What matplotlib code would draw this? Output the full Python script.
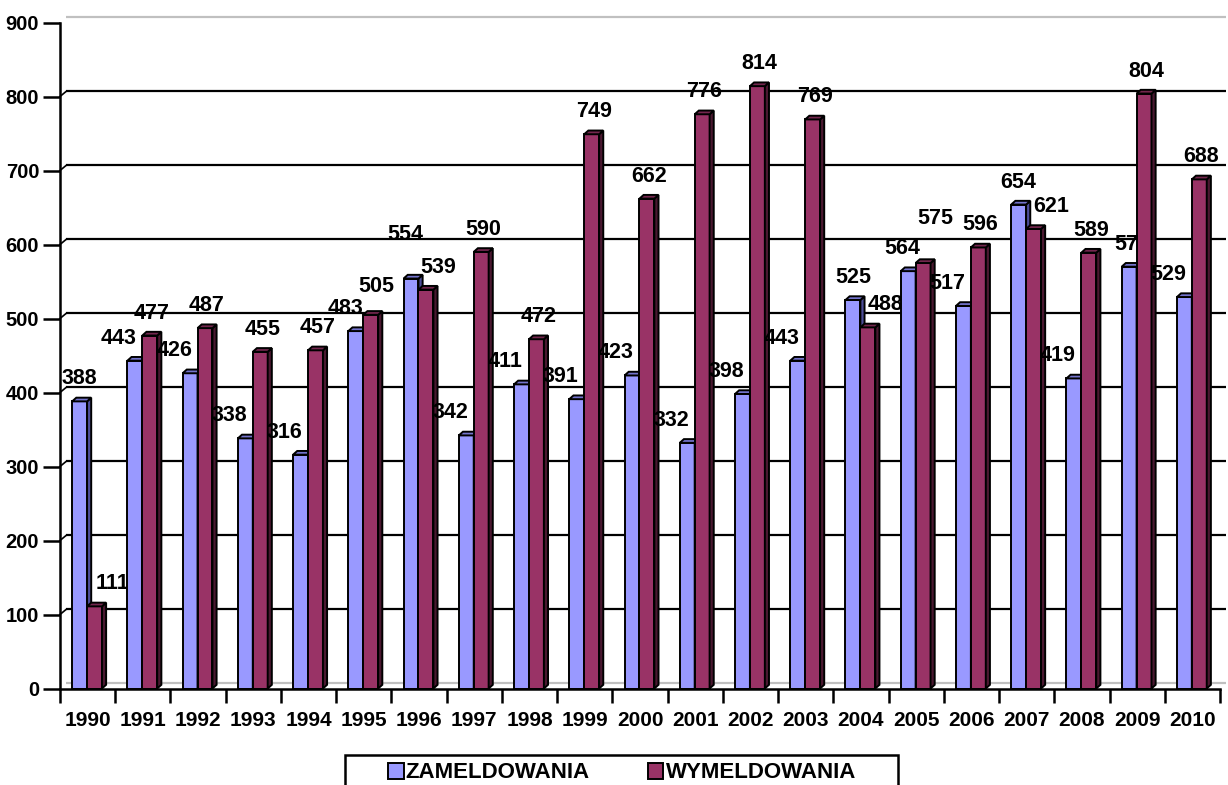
import numpy as np
import matplotlib.pyplot as plt
from matplotlib.patches import Polygon, Patch, Rectangle

plt.rcParams['font.family'] = ['Liberation Sans', 'DejaVu Sans']
plt.rcParams['font.weight'] = 'bold'

# Dane
lata = [str(r) for r in range(1990, 2011)]
zameldowania = [388, 443, 426, 338, 316, 483, 554, 342, 411, 391, 423,
                332, 398, 443, 525, 564, 517, 654, 419, 570, 529]
wymeldowania = [111, 477, 487, 455, 457, 505, 539, 590, 472, 749, 662,
                776, 814, 769, 488, 575, 596, 621, 589, 804, 688]
serie = ['ZAMELDOWANIA', 'WYMELDOWANIA']

# kolory: przod, bok, gora
kol_zam = ('#9999ff', '#4d4d99', '#7373cc')
kol_wym = ('#993366', '#4a1830', '#73264d')

W, H = 1228, 785
fig = plt.figure(figsize=(W / 100, H / 100), dpi=100)
ax = fig.add_axes([60 / W, (H - 688.5) / H, 1160 / W, 666 / H])
ax.set_xlim(0, len(lata))
ax.set_ylim(0, 900)

sz = 0.27      # szerokosc slupka
dx, dy = 0.075, 5   # glebokosc 3D
gx, gy = 0.11, 6.8  # przesuniecie tylnej sciany

# siatka na tylnej scianie
for v in range(0, 1000, 100):
    kol = '#c0c0c0' if v in (0, 900) else 'k'
    ax.plot([gx, len(lata) + gx], [v + gy, v + gy], color=kol, lw=1.6,
            zorder=1, clip_on=False, solid_capstyle='butt')
    if 0 < v < 900:
        ax.plot([0, gx], [v, v + gy], color='k', lw=1.2, zorder=1, clip_on=False)


def slupek(x0, h, kolory, z):
    przod, bok, gora = kolory
    ax.bar(x0, h, sz, align='edge', color=przod, edgecolor='k', lw=1.4, zorder=z)
    ax.add_patch(Polygon([(x0 + sz, 0), (x0 + sz + dx, dy), (x0 + sz + dx, h + dy),
                          (x0 + sz, h)], closed=True, fc=bok, ec='k', lw=1.4,
                         zorder=z, clip_on=False))
    ax.add_patch(Polygon([(x0, h), (x0 + dx, h + dy), (x0 + sz + dx, h + dy),
                          (x0 + sz, h)], closed=True, fc=gora, ec='k', lw=1.4,
                         zorder=z, clip_on=False))


for k in range(len(lata)):
    z = zameldowania[k]
    w = wymeldowania[k]
    xz = k + 0.22
    xw = xz + sz
    zb = 10 + 4 * k
    # etykiety odsuwane od wyzszego sasiada (jak w Excelu)
    gz = gw = 12
    sx_z, sx_w = 0, 2
    if abs(z - w) <= 15:
        sx_z, sx_w = -6, 12
        if z > w:
            gz += 22
        else:
            gw += 22
    elif abs(z - w) <= 30:
        sx_z, sx_w = -10, 6
        if z > w:
            gz += 6
        else:
            gw += 6
    elif w > z:
        # nie przesuwaj w lewo gdy koliduje z etykieta z poprzedniego roku
        if k == 0 or abs(wymeldowania[k - 1] - z) > 30:
            sx_z = -16
        else:
            sx_z = 3
    else:
        sx_w = 18
    slupek(xz, z, kol_zam, zb)
    ax.annotate(str(z), (xz + sz / 2, z), xytext=(sx_z, gz),
                textcoords='offset pixels', ha='center', va='bottom',
                fontsize=15.5, fontweight='bold', zorder=zb + 1)
    slupek(xw, w, kol_wym, zb + 2)
    ax.annotate(str(w), (xw + sz / 2, w), xytext=(sx_w, gw),
                textcoords='offset pixels', ha='center', va='bottom',
                fontsize=15.5, fontweight='bold', zorder=zb + 3, annotation_clip=False)

# osie
for s in ['top', 'right']:
    ax.spines[s].set_visible(False)
for s in ['left', 'bottom']:
    ax.spines[s].set_linewidth(1.8)
    ax.spines[s].set_zorder(200)

ax.set_yticks(range(0, 1000, 100))
ax.tick_params(axis='y', direction='out', length=12, width=1.8, labelsize=14.5, pad=3)
ax.set_xticks(range(0, len(lata) + 1))
ax.set_xticklabels([])
ax.tick_params(axis='x', which='major', direction='out', length=10, width=1.8)
ax.set_xticks(np.arange(len(lata)) + 0.5, minor=True)
ax.set_xticklabels(lata, minor=True)
ax.tick_params(axis='x', which='minor', length=0, labelsize=15, pad=16)
for t in ax.get_xticklabels(minor=True) + ax.get_yticklabels():
    t.set_fontweight('bold')

# legenda - ramka rysowana osobno
fig.patches.append(Rectangle((345 / W, -0.05), 553 / W, (H - 755) / H + 0.05,
                             transform=fig.transFigure, fill=False, ec='k', lw=1.8))
uchwyty = [Patch(fc=kol_zam[0], ec='k', lw=1.4), Patch(fc=kol_wym[0], ec='k', lw=1.4)]
fig.legend(uchwyty, serie, ncol=2, loc='center',
           bbox_to_anchor=(622 / W, 1 - 773 / H), frameon=False,
           handlelength=0.7, handleheight=0.7, handletextpad=0.1,
           columnspacing=2.6, borderaxespad=0, prop={'size': 16, 'weight': 'bold'})

fig.savefig('out.png', dpi=100)
